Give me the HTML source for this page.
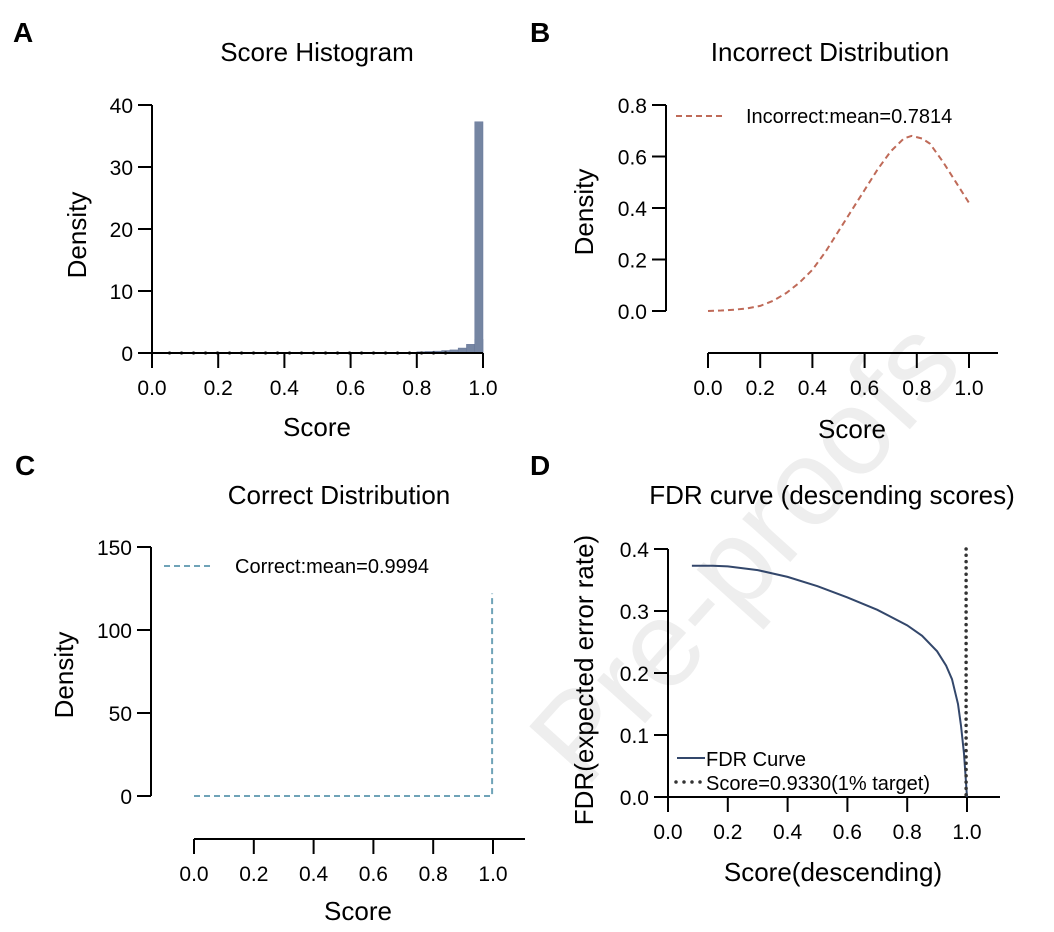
<!DOCTYPE html>
<html><head><meta charset="utf-8"><style>
html,body{margin:0;background:#fff;overflow:hidden;width:1054px;height:932px}
svg{display:block;overflow:hidden;font-family:"Liberation Sans",Arial,sans-serif}
</style></head><body>
<svg id="fig" width="1054" height="932" viewBox="0 0 1054 932" xmlns="http://www.w3.org/2000/svg">
<text x="0" y="0" transform="translate(585,790) rotate(-48)" font-size="122" fill="#eeeeee">Pre-proofs</text>
<g id="A"></g>
<g id="B"></g>
<g id="C"></g>
<g id="D"></g>
</svg>
<script>
// Panel A data
const histBinStarts = [0.775,0.8,0.825,0.85,0.875,0.9,0.925,0.95,0.975];
const histDensity = [0.1,0.2,0.25,0.3,0.4,0.5,0.8,1.4,2.2];
const histPeakStart = [0.975];
const histPeakValue = [37.3];
const histYTicks = [0,10,20,30,40];
const xTicks = [0,0.2,0.4,0.6,0.8,1.0];
// Panel B data
const incX = [0,0.05,0.1,0.15,0.2,0.25,0.3,0.35,0.4,0.45,0.5,0.55,0.6,0.65,0.7,0.75,0.78,0.82,0.85,0.9,0.95,1.0];
const incY = [0,0.002,0.005,0.01,0.02,0.04,0.07,0.11,0.16,0.23,0.31,0.39,0.47,0.55,0.62,0.67,0.68,0.67,0.65,0.58,0.50,0.42];
const incYTicks = [0,0.2,0.4,0.6,0.8];
// Panel C data
const corX = [0,0.5,0.997,0.997];
const corY = [0,0,0,122];
const corYTicks = [0,50,100,150];
// Panel D data
const fdrX = [0.08,0.15,0.2,0.3,0.4,0.5,0.6,0.7,0.8,0.85,0.9,0.93,0.95,0.97,0.98,0.99,0.995,1.0];
const fdrY = [0.373,0.373,0.372,0.366,0.355,0.340,0.322,0.302,0.277,0.260,0.235,0.212,0.190,0.150,0.115,0.070,0.035,0];
const fdrThreshold = [0.997];
const fdrYTicks = [0,0.1,0.2,0.3,0.4];

const NS="http://www.w3.org/2000/svg";
function mk(parent,tag,attrs,text){const e=document.createElementNS(NS,tag);for(const k in attrs)e.setAttribute(k,attrs[k]);if(text!==undefined)e.textContent=text;parent.appendChild(e);return e;}
function lin(d0,d1,r0,r1){return v=>r0+(v-d0)/(d1-d0)*(r1-r0);}
function fmt1(v){return v.toFixed(1);}
const TICKFS=21, TITLEFS=26;

function axes(g,o){
  const ya=mk(g,'line',{x1:o.yAxisX,x2:o.yAxisX,y1:o.yTop,y2:o.yBot,stroke:'#000','stroke-width':2});
  
  
  o.yTicks.forEach(t=>{const y=o.ys(t);
    const tl=mk(g,'line',{x1:o.yAxisX-14,x2:o.yAxisX,y1:y,y2:y,stroke:'#000','stroke-width':2});
    
    
    const tx=mk(g,'text',{x:o.yAxisX-19,y:y+8,'font-size':TICKFS,'text-anchor':'end'},o.yFmt(t));
    
    
  });
  const xa=mk(g,'line',{x1:o.xLeft,x2:o.xRight,y1:o.xAxisY,y2:o.xAxisY,stroke:'#000','stroke-width':2});
  
  
  xTicks.forEach(t=>{const x=o.xs(t);
    const tl=mk(g,'line',{x1:x,x2:x,y1:o.xAxisY,y2:o.xAxisY+15,stroke:'#000','stroke-width':2});
    
    
    const tx=mk(g,'text',{x:x,y:o.xAxisY+42,'font-size':TICKFS,'text-anchor':'middle'},fmt1(t));
    
    
  });
  const xt=mk(g,'text',{x:o.xTitle[0],y:o.xTitle[1],'font-size':TITLEFS,'text-anchor':'middle'},o.xLabel);
  
  
  const yt=mk(g,'text',{x:0,y:0,'font-size':TITLEFS,'text-anchor':'middle',transform:`translate(${o.yTitle[0]},${o.yTitle[1]}) rotate(-90)`},o.yLabel);
  
  
  const ti=mk(g,'text',{x:o.title[0],y:o.title[1],'font-size':TITLEFS,'text-anchor':'middle'},o.titleText);
  
  
  const pl=mk(g,'text',{x:o.letter[0],y:o.letter[1],'font-size':28,'font-weight':'bold'},o.letterText);
  
  
}
function pathD(xs,ys,X,Y){return X.map((v,i)=>(i?'L':'M')+xs(v).toFixed(1)+','+ys(Y[i]).toFixed(1)).join(' ');}

// Panel A
(function(){const g=document.getElementById('A');
 const xs=lin(0,1,152,483), ys=lin(0,40,353,105);
 histBinStarts.forEach((b,i)=>{const r=mk(g,'rect',{x:xs(b),y:ys(histDensity[i]),width:xs(b+0.025)-xs(b),height:ys(0)-ys(histDensity[i]),fill:'#7585a2',stroke:'#66769a','stroke-width':0.5});
  
  });
 histPeakStart.forEach((b,i)=>{const r=mk(g,'rect',{x:xs(b),y:ys(histPeakValue[i]),width:xs(b+0.025)-xs(b),height:ys(0)-ys(histPeakValue[i]),fill:'#7585a2',stroke:'#66769a','stroke-width':0.5});
  
  });
 axes(g,{yAxisX:152,yTop:105,yBot:353,ys,yTicks:histYTicks,yFmt:v=>String(v),xLeft:152,xRight:483,xAxisY:353,xs,
  xTitle:[317,436],yTitle:[86,235],xLabel:'Score',yLabel:'Density',title:[317,61],titleText:'Score Histogram',letter:[13,42],letterText:'A'});
 const dl=mk(g,'line',{x1:xs(0.05),x2:xs(0.9),y1:353,y2:353,stroke:'#000','stroke-width':3,'stroke-dasharray':'2 10'});
 
 
})();
// Panel B
(function(){const g=document.getElementById('B');
 const xs=lin(0,1,708,969), ys=lin(0,0.8,311,105);
 axes(g,{yAxisX:666,yTop:105,yBot:311,ys,yTicks:incYTicks,yFmt:fmt1,xLeft:708,xRight:998,xAxisY:353,xs,
  xTitle:[852,438],yTitle:[593,212],xLabel:'Score',yLabel:'Density',title:[830,61],titleText:'Incorrect Distribution',letter:[530,42],letterText:'B'});
 const p=mk(g,'path',{d:pathD(xs,ys,incX,incY),fill:'none',stroke:'#bf6a58','stroke-width':2,'stroke-dasharray':'6 4'});
 
 
 const ll=mk(g,'line',{x1:676,x2:722,y1:116,y2:116,stroke:'#bf6a58','stroke-width':2,'stroke-dasharray':'6 4'});
 
 
 const lt=mk(g,'text',{x:746,y:123,'font-size':20},'Incorrect:mean=0.7814');
 
 
})();
// Panel C
(function(){const g=document.getElementById('C');
 const xs=lin(0,1,194,493), ys=lin(0,150,796,547);
 axes(g,{yAxisX:151,yTop:547,yBot:796,ys,yTicks:corYTicks,yFmt:v=>String(v),xLeft:194,xRight:525,xAxisY:839,xs,
  xTitle:[358,920],yTitle:[73,675],xLabel:'Score',yLabel:'Density',title:[339,504],titleText:'Correct Distribution',letter:[15,475],letterText:'C'});
 const p=mk(g,'path',{d:pathD(xs,ys,corX,corY),fill:'none',stroke:'#6fa3b8','stroke-width':2,'stroke-dasharray':'6 4'});
 
 
 const ll=mk(g,'line',{x1:164,x2:210,y1:566,y2:566,stroke:'#6fa3b8','stroke-width':2,'stroke-dasharray':'6 4'});
 
 
 const lt=mk(g,'text',{x:235,y:573,'font-size':20},'Correct:mean=0.9994');
 
 
})();
// Panel D
(function(){const g=document.getElementById('D');
 const xs=lin(0,1,668,967), ys=lin(0,0.4,797,549);
 axes(g,{yAxisX:668,yTop:549,yBot:797,ys,yTicks:fdrYTicks,yFmt:fmt1,xLeft:655,xRight:1000,xAxisY:797,xs,
  xTitle:[833,881],yTitle:[593,680],xLabel:'Score(descending)',yLabel:'FDR(expected error rate)',title:[832,504],titleText:'FDR curve (descending scores)',letter:[530,475],letterText:'D'});
 const p=mk(g,'path',{d:pathD(xs,ys,fdrX,fdrY),fill:'none',stroke:'#33476b','stroke-width':2});
 
 
 fdrThreshold.forEach(t=>{const l=mk(g,'line',{x1:xs(t),x2:xs(t),y1:ys(0.4),y2:ys(0),stroke:'#333','stroke-width':3.5,'stroke-linecap':'round','stroke-dasharray':'0 6.3'});
  
  });
 const l1=mk(g,'line',{x1:677,x2:705,y1:758,y2:758,stroke:'#33476b','stroke-width':2});
 
 
 const t1=mk(g,'text',{x:706,y:766,'font-size':20},'FDR Curve');
 
 
 const l2=mk(g,'line',{x1:676,x2:705,y1:782,y2:782,stroke:'#333','stroke-width':3.5,'stroke-linecap':'round','stroke-dasharray':'0 8'});
 
 
 const t2=mk(g,'text',{x:706,y:790,'font-size':20},'Score=0.9330(1% target)');
 
 
})();
</script>
</body></html>
